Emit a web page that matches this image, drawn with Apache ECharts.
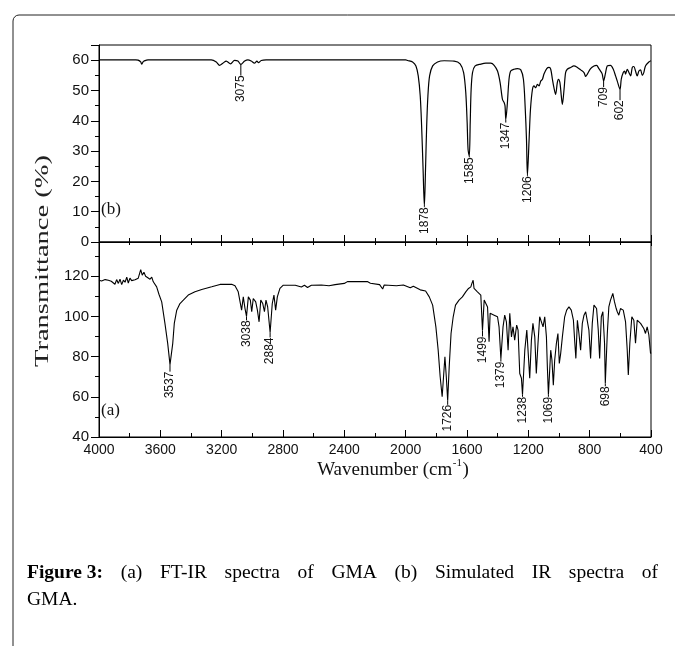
<!DOCTYPE html>
<html>
<head>
<meta charset="utf-8">
<script src="https://cdn.jsdelivr.net/npm/echarts@6/dist/echarts.min.js"></script>
<style>
html,body{margin:0;padding:0;background:#fff;}
#chart{width:675px;height:646px;}
</style>
</head>
<body>
<div id="chart"></div>
<script>
// ---------------- DATA ----------------
// (b) Simulated IR spectrum: [wavenumber, transmittance]
const spectrumB = [
  [4000,60.1],[3760,60.1],[3745,60.0],[3728,59.4],[3722,58.7],[3710,59.6],[3690,60.0],[3680,60.1],
  [3268,60.1],[3235,59.4],[3214,58.3],[3192,59.0],[3170,59.7],[3142,58.8],[3116,59.9],[3094,59.7],
  [3075,58.6],[3050,59.7],[3029,60.1],[3007,59.7],[2986,59.0],[2970,59.7],[2960,59.2],[2942,59.9],
  [2910,60.1],[2000,60.1],[1987,59.9],[1955,59.4],[1933,58.1],[1918,54.8],[1905,48.2],[1896,38.3],
  [1887,25.0],[1878,11.8],[1870,25.0],[1863,38.3],[1855,48.2],[1844,54.8],[1824,58.1],[1792,59.4],
  [1749,59.8],[1684,59.7],[1645,58.8],[1622,55.9],[1608,49.3],[1599,39.4],[1593,30.5],[1585,28.3],
  [1579,39.4],[1573,50.4],[1564,55.9],[1547,58.1],[1510,58.7],[1477,59.0],[1445,59.0],[1423,58.3],
  [1401,56.4],[1384,52.6],[1369,47.1],[1358,46.0],[1352,44.9],[1347,40.4],[1338,44.9],[1326,53.7],
  [1315,56.4],[1293,57.0],[1271,57.2],[1249,56.8],[1232,53.7],[1221,44.9],[1212,33.8],[1206,22.0],
  [1195,33.8],[1186,43.8],[1173,50.4],[1163,51.5],[1152,50.9],[1141,52.0],[1130,51.5],[1119,53.1],
  [1108,53.7],[1098,55.4],[1080,57.2],[1065,57.6],[1054,57.0],[1043,53.7],[1033,50.9],[1022,48.7],
  [1011,52.6],[1004,53.7],[994,52.6],[985,48.2],[978,45.4],[967,50.4],[957,55.9],[946,57.0],
  [924,57.6],[903,58.1],[880,57.6],[859,56.8],[837,55.9],[826,54.6],[815,55.4],[794,57.2],
  [772,58.1],[755,58.3],[740,57.2],[729,56.4],[718,55.4],[709,53.1],[696,55.9],[685,58.1],
  [664,58.3],[646,57.0],[631,54.8],[620,53.1],[602,50.4],[594,53.7],[581,55.9],[572,56.4],
  [566,55.4],[555,57.0],[544,55.9],[533,54.8],[522,57.6],[512,57.9],[501,56.4],[490,54.8],
  [479,56.4],[468,56.8],[457,55.0],[447,55.9],[436,58.1],[414,59.4],[400,59.8]
];

// (a) FT-IR spectrum: [wavenumber, transmittance]
const spectrumA = [
  [4000,118.0],[3983,117.6],[3960,118.3],[3939,118.0],[3920,117.5],[3907,117.2],[3896,116.0],[3885,118.3],
  [3874,116.4],[3863,118.5],[3852,115.8],[3841,118.0],[3830,117.0],[3819,119.5],[3809,116.6],[3798,119.0],
  [3787,117.8],[3765,118.2],[3744,119.0],[3728,123.3],[3718,120.5],[3707,122.0],[3696,120.0],[3683,120.8],
  [3667,118.5],[3656,119.5],[3646,117.2],[3635,118.0],[3624,114.7],[3609,111.0],[3591,107.2],[3570,96.5],
  [3552,86.6],[3537,76.0],[3519,86.6],[3509,96.5],[3493,103.1],[3472,106.4],[3450,108.1],[3418,110.6],
  [3374,112.2],[3330,113.4],[3265,114.7],[3211,115.9],[3135,116.0],[3113,115.2],[3092,112.2],[3070,103.1],
  [3059,109.7],[3048,104.0],[3038,100.0],[3026,109.7],[3013,108.1],[3004,102.3],[2994,108.9],[2978,107.2],
  [2967,103.1],[2956,97.3],[2945,108.1],[2932,106.4],[2921,102.3],[2911,108.1],[2900,104.7],[2884,92.0],
  [2870,106.4],[2859,110.6],[2848,103.1],[2837,109.7],[2820,113.9],[2798,115.5],[2720,115.5],[2680,114.6],
  [2660,115.5],[2640,114.4],[2615,115.5],[2550,115.6],[2500,115.2],[2460,115.8],[2400,116.4],[2380,117.3],
  [2250,117.3],[2230,116.5],[2170,115.8],[2150,113.6],[2140,115.6],[2060,115.2],[2015,115.6],[1970,114.2],
  [1950,115.0],[1905,113.2],[1870,112.6],[1846,109.7],[1824,105.6],[1803,94.8],[1788,83.2],[1775,70.0],
  [1762,60.0],[1753,70.0],[1744,79.9],[1735,70.0],[1726,58.0],[1716,75.0],[1704,91.5],[1690,99.8],
  [1675,105.6],[1652,108.1],[1630,109.7],[1608,112.2],[1590,113.9],[1575,114.7],[1568,116.4],[1560,118.0],
  [1554,113.9],[1542,113.0],[1532,112.2],[1521,111.5],[1510,110.6],[1499,93.0],[1488,108.1],[1477,108.9],
  [1466,104.7],[1456,87.4],[1449,101.5],[1440,102.3],[1423,100.6],[1401,99.8],[1391,94.8],[1379,79.0],
  [1365,94.8],[1354,100.6],[1343,97.3],[1332,83.2],[1321,101.5],[1310,89.8],[1300,94.8],[1289,88.2],
  [1276,95.7],[1267,93.2],[1256,71.6],[1245,69.2],[1238,61.0],[1223,83.2],[1210,93.2],[1202,83.2],
  [1191,69.2],[1180,88.2],[1170,96.5],[1158,89.8],[1148,71.6],[1137,86.6],[1126,99.8],[1115,100.6],
  [1104,94.8],[1093,99.8],[1082,89.8],[1076,74.9],[1069,61.0],[1054,83.2],[1046,78.3],[1037,65.8],
  [1028,78.3],[1017,86.6],[1007,91.5],[998,76.6],[989,81.6],[978,89.8],[963,99.8],[950,103.1],
  [935,104.7],[920,103.1],[906,98.1],[898,88.2],[890,79.1],[880,98.1],[870,91.5],[859,83.2],
  [848,96.5],[837,100.6],[826,102.3],[815,101.5],[805,93.2],[794,79.1],[783,96.5],[772,105.6],
  [755,103.9],[744,93.2],[735,79.1],[724,99.8],[714,102.3],[703,86.6],[698,66.7],[685,91.5],
  [675,104.7],[664,108.1],[649,111.4],[638,107.2],[627,103.9],[620,102.3],[610,100.6],[599,103.9],
  [581,103.1],[566,97.3],[555,83.2],[548,70.8],[538,86.6],[525,99.8],[512,98.1],[501,86.6],
  [490,98.1],[479,99.0],[468,96.5],[457,97.3],[447,94.0],[436,91.5],[425,94.8],[414,90.8],
  [403,81.6],[400,82.0]
];

// peak annotations
const peakLabelsB = ['3075','1878','1585','1347','1206','709','602'];
const peakWaveB   = [3075, 1878, 1585, 1347, 1206, 709, 602];
const peakValB    = [58.6, 11.8, 28.3, 40.4, 22.0, 53.1, 50.4];

const peakLabelsA = ['3537','3038','2884','1726','1499','1379','1238','1069','698'];
const peakWaveA   = [3537, 3038, 2884, 1726, 1499, 1379, 1238, 1069, 698];
const peakValA    = [76.0, 100.0, 92.0, 58.0, 93.0, 79.0, 61.0, 61.0, 66.7];

// axis ticks
const xMin = 400, xMax = 4000, xStep = 400;
const yB = {min: 0, max: 65, step: 10};
const yA = {min: 40, max: 137, step: 20};

// ---------------- STYLE ----------------
const leaderB = [11, 1, 1, 3, 1, 6, 11];
const leaderA = [7, 4, 5, 4, 6, 3, 2, 2, 3];
const SANS = '"Liberation Sans", Arial, sans-serif';
const SERIF = '"Liberation Serif", "Times New Roman", serif';

const cv = document.createElement('canvas').getContext('2d');
function tw(text, font){ cv.font = font; return cv.measureText(text).width; }

function peakRenderer(labels, leads){
  return function(params, api){
    const i = api.value(2);
    const p = api.coord([api.value(0), api.value(1)]);
    const L = leads[i];
    return {
      type: 'group',
      children: [
        {type:'line', shape:{x1:p[0], y1:p[1], x2:p[0], y2:p[1]+L}, style:{stroke:'#000', lineWidth:1}},
        {type:'text', x:p[0], y:p[1]+L, rotation:Math.PI/2,
         style:{text:labels[i], font:'12px '+SANS, fill:'#111', align:'right', verticalAlign:'middle', textAlign:'right', textVerticalAlign:'middle'}}
      ]
    };
  };
}

const GL = 99, GR = 24;
function xAxisBase(grid, pos, showLabel, tickLen, minorLen){
  return {
    type:'value', gridIndex:grid, position:pos, min:xMin, max:xMax, interval:xStep, inverse:true,
    axisLine:{show:true, onZero:false, lineStyle:{color:'#000', width:1}},
    axisTick:{show:true, inside:true, length:tickLen, lineStyle:{color:'#000'}},
    minorTick:{show:true, splitNumber:2, length:minorLen, lineStyle:{color:'#000'}},
    axisLabel:{show:showLabel, inside:false, margin:6, fontSize:14, fontFamily:SANS, color:'#111',
      formatter:function(v){ return String(v); }},
    splitLine:{show:false}
  };
}
function yAxisBase(grid, cfg){
  return {
    type:'value', gridIndex:grid, min:cfg.min, max:cfg.max, interval:cfg.step,
    axisLine:{show:true, onZero:false, lineStyle:{color:'#000', width:1}},
    axisTick:{show:true, inside:false, length:8, lineStyle:{color:'#000'}},
    minorTick:{show:true, splitNumber:2, length:4, lineStyle:{color:'#000'}},
    axisLabel:{margin:10, fontSize:15, fontFamily:SANS, color:'#111',
      formatter:function(v){ return ((v - cfg.min) % cfg.step === 0) ? String(v) : ''; }},
    splitLine:{show:false}
  };
}

// graphic texts
const graphics = [];
// page border (left + top with rounded corner)
graphics.push({type:'rect', shape:{x:13, y:15, width:720, height:720, r:[6,0,0,0]},
  style:{fill:'none', stroke:'#222', lineWidth:1}, silent:true});
// y title, stretched to the reference length
const yTitle = 'Transmittance (%)';
const yFont = '19px ' + SERIF;
const yScale = 212 / tw(yTitle, yFont);
graphics.push({type:'text', x:43, y:261, rotation:Math.PI/2, scaleX:yScale, scaleY:1,
  style:{text:yTitle, font:yFont, fill:'#222', align:'center', verticalAlign:'middle', textAlign:'center', textVerticalAlign:'middle'}});
// x title with superscript
const xFont = '19px ' + SERIF, supFont = '11px ' + SERIF;
const xa = 'Wavenumber (cm', xs = '-1', xb = ')';
const xw = tw(xa, xFont) + tw(xs, supFont) + 1 + tw(xb, xFont);
let xx = 393 - xw/2;
graphics.push({type:'text', x:xx, y:470, style:{text:xa, font:xFont, fill:'#111', align:'left', verticalAlign:'middle', textAlign:'left', textVerticalAlign:'middle'}});
xx += tw(xa, xFont) + 0.5;
graphics.push({type:'text', x:xx, y:463, style:{text:xs, font:supFont, fill:'#111', align:'left', verticalAlign:'middle', textAlign:'left', textVerticalAlign:'middle'}});
xx += tw(xs, supFont) + 0.5;
graphics.push({type:'text', x:xx, y:470, style:{text:xb, font:xFont, fill:'#111', align:'left', verticalAlign:'middle', textAlign:'left', textVerticalAlign:'middle'}});
// panel letters
graphics.push({type:'text', x:101, y:210, style:{text:'(b)', font:'17px '+SERIF, fill:'#111', align:'left', verticalAlign:'middle', textAlign:'left', textVerticalAlign:'middle'}});
graphics.push({type:'text', x:101, y:411, style:{text:'(a)', font:'17px '+SERIF, fill:'#111', align:'left', verticalAlign:'middle', textAlign:'left', textVerticalAlign:'middle'}});
// caption, justified first line
const capF = '19.5px ' + SERIF, capB = 'bold 19.5px ' + SERIF;
const line1 = [['Figure 3:',true],['(a)'],['FT-IR'],['spectra'],['of'],['GMA'],['(b)'],['Simulated'],['IR'],['spectra'],['of']];
const capX0 = 27, capX1 = 658;
let sumW = 0;
line1.forEach(t => { sumW += tw(t[0], t[1] ? capB : capF); });
const gap = (capX1 - capX0 - sumW) / (line1.length - 1);
let cx = capX0;
line1.forEach(t => {
  const f = t[1] ? capB : capF;
  graphics.push({type:'text', x:cx, y:573, style:{text:t[0], font:f, fill:'#000', align:'left', verticalAlign:'middle', textAlign:'left', textVerticalAlign:'middle'}});
  cx += tw(t[0], f) + gap;
});
graphics.push({type:'text', x:capX0, y:600, style:{text:'GMA.', font:capF, fill:'#000', align:'left', verticalAlign:'middle', textAlign:'left', textVerticalAlign:'middle'}});

const chart = echarts.init(document.getElementById('chart'), null, {renderer:'canvas'});
chart.setOption({
  animation:false,
  backgroundColor:'#fff',
  grid:[
    {left:GL, right:GR, top:45, height:197, show:true, borderColor:'#000', borderWidth:1, backgroundColor:'transparent'},
    {left:GL, right:GR, top:242, height:195, show:true, borderColor:'#000', borderWidth:1, backgroundColor:'transparent'}
  ],
  xAxis:[
    xAxisBase(0, 'bottom', false, 7, 4),
    xAxisBase(1, 'bottom', true, 7, 4),
    xAxisBase(1, 'top', false, 4, 3)
  ],
  yAxis:[ yAxisBase(0, yB), yAxisBase(1, yA) ],
  series:[
    {type:'line', xAxisIndex:0, yAxisIndex:0, data:spectrumB, showSymbol:false, symbol:'none',
     smooth:0.3, lineStyle:{color:'#000', width:1.2}, z:2},
    {type:'line', xAxisIndex:1, yAxisIndex:1, data:spectrumA, showSymbol:false, symbol:'none',
     lineStyle:{color:'#000', width:1.1}, z:2},
    {type:'custom', xAxisIndex:0, yAxisIndex:0, renderItem:peakRenderer(peakLabelsB, leaderB),
     data:peakWaveB.map((w,i)=>[w, peakValB[i], i]), z:3, clip:false},
    {type:'custom', xAxisIndex:1, yAxisIndex:1, renderItem:peakRenderer(peakLabelsA, leaderA),
     data:peakWaveA.map((w,i)=>[w, peakValA[i], i]), z:3, clip:false}
  ],
  graphic:{elements:graphics}
});
</script>
</body>
</html>
